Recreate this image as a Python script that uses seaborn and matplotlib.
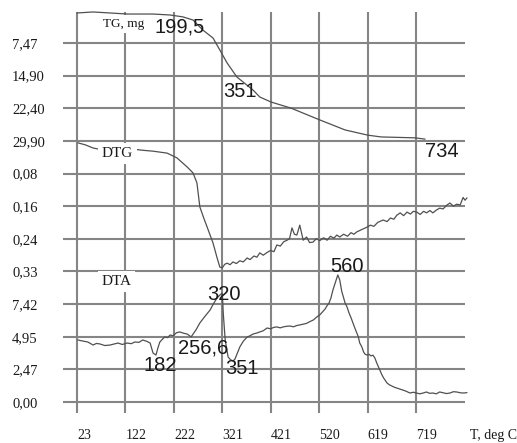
import numpy as np
import pandas as pd
import matplotlib
matplotlib.use("Agg")
import matplotlib.pyplot as plt
import seaborn as sns

# ---- data -------------------------------------------------------------
# temperature tick labels (deg C) and the stacked left-axis labels, bottom -> top
temp_ticks = [23, 122, 222, 321, 421, 520, 619, 719]
left_labels = ["0,00", "2,47", "4,95", "7,42",          # DTA
               "0,33", "0,24", "0,16", "0,08",          # DTG
               "29,90", "22,40", "14,90", "7,47"]       # TG

# TG: mass loss, mg
tg_temp = [23, 56, 91, 126, 179, 214, 240, 261, 281, 302, 316, 331, 351,
           384, 398, 421, 462, 521, 573, 620, 647, 716, 737]
tg_loss = [0.61, 0.38, 0.61, 0.85, 0.85, 1.07, 1.50, 2.22, 4.51, 6.34, 9.09,
           12.07, 15.27, 18.25, 19.85, 21.0, 22.4, 25.1, 27.4, 28.6, 29.0,
           29.2, 29.5]

# DTG: rate of mass loss
dtg_temp = [25, 40, 56, 76, 100, 138, 160, 179, 208, 228, 249, 261, 269, 275,
            283, 290, 302, 310, 316, 321, 326, 331, 337, 343, 350, 357, 364,
            372, 378, 386, 392, 398, 405, 413, 420, 427, 433, 440, 447, 454,
            459, 464, 469, 474, 480, 487, 494, 500, 507, 514, 521, 529, 536,
            543, 550, 556, 562, 570, 578, 585, 591, 597, 604, 611, 618, 625,
            632, 640, 651, 659, 666, 673, 679, 686, 693, 700, 707, 713, 720,
            727, 734, 740, 747, 753, 760, 767, 774, 781, 788, 795, 802, 809,
            815, 819, 823]
dtg_rate = [0.005, 0.010, 0.018, 0.023, 0.022, 0.021, 0.024, 0.026, 0.031,
            0.043, 0.066, 0.081, 0.106, 0.167, 0.195, 0.218, 0.258, 0.294,
            0.319, 0.321, 0.312, 0.309, 0.313, 0.306, 0.310, 0.303, 0.306,
            0.296, 0.300, 0.291, 0.294, 0.283, 0.289, 0.282, 0.277, 0.280,
            0.263, 0.266, 0.255, 0.251, 0.247, 0.220, 0.236, 0.238, 0.213,
            0.251, 0.243, 0.257, 0.256, 0.247, 0.252, 0.245, 0.251, 0.241,
            0.246, 0.238, 0.243, 0.236, 0.241, 0.232, 0.236, 0.230, 0.226,
            0.222, 0.218, 0.213, 0.216, 0.206, 0.200, 0.204, 0.195, 0.198,
            0.188, 0.182, 0.189, 0.180, 0.185, 0.178, 0.180, 0.186, 0.178,
            0.182, 0.176, 0.182, 0.175, 0.170, 0.172, 0.163, 0.157, 0.165,
            0.160, 0.162, 0.143, 0.150, 0.144]

# DTA signal
dta_temp = [25, 35, 45, 56, 63, 70, 80, 91, 100, 107,
            116, 126, 134, 142, 150, 158, 166, 173, 179, 185,
            189, 193, 198, 203, 209, 214, 220, 227, 234, 241,
            249, 254, 257, 262, 267, 275, 286, 296, 303, 310,
            316, 321, 323, 327, 333, 338, 343, 347, 352, 357,
            364, 372, 378, 384, 391, 398, 405, 413, 420, 427,
            433, 440, 446, 453, 460, 467, 474, 480, 487, 494,
            501, 508, 515, 521, 527, 532, 536, 540, 544, 548,
            552, 556, 558, 562, 566, 570, 573, 577, 581, 585,
            589, 593, 597, 600, 603, 607, 611, 614, 618, 622,
            626, 630, 634, 638, 644, 648, 652, 656, 659, 664,
            669, 674, 679, 685, 691, 698, 706, 713, 720, 726,
            733, 740, 746, 753, 760, 767, 774, 781, 788, 795,
            802, 809, 816, 823]
dta_sig = [4.70, 4.62, 4.55, 4.32, 4.44, 4.40, 4.28, 4.32, 4.40, 4.47,
           4.36, 4.47, 4.42, 4.55, 4.52, 4.70, 4.60, 4.47, 3.71, 3.56,
           4.10, 4.55, 4.75, 4.93, 4.88, 5.08, 5.02, 5.25, 5.31, 5.22,
           5.15, 5.02, 4.93, 5.20, 5.46, 5.99, 6.52, 6.97, 7.45, 7.88,
           8.10, 8.26, 6.75, 4.70, 3.41, 3.20, 3.11, 3.25, 3.70, 4.17,
           4.60, 4.93, 5.02, 5.15, 5.22, 5.31, 5.40, 5.61, 5.55, 5.66,
           5.69, 5.62, 5.69, 5.74, 5.76, 5.70, 5.80, 5.84, 5.90, 5.96,
           6.10, 6.22, 6.45, 6.60, 6.85, 7.05, 7.30, 7.50, 7.90, 8.49,
           8.95, 9.40, 9.63, 9.25, 8.40, 7.90, 7.50, 7.20, 6.75, 6.40,
           5.99, 5.60, 5.23, 4.95, 4.47, 4.20, 3.79, 3.62, 3.56, 3.62,
           3.49, 3.55, 3.34, 2.95, 2.43, 2.10, 1.82, 1.60, 1.44, 1.30,
           1.21, 1.12, 1.06, 0.98, 0.91, 0.82, 0.68, 0.74, 0.68, 0.62,
           0.68, 0.76, 0.66, 0.68, 0.62, 0.76, 0.70, 0.64, 0.68, 0.78,
           0.76, 0.70, 0.68, 0.71]

# ---- each curve lives in its own band of the stacked chart -------------
def tg_band(v):   # TG band: 0 mg at row 12, 7.47 mg per grid row, downwards
    return 12 - np.asarray(v) / 7.475

def dtg_band(v):  # DTG band: 0 at row 8, 0.0825 per grid row, downwards
    return 8 - np.asarray(v) / 0.0825

def dta_band(v):  # DTA band: 0 at row 0, 2.474 per grid row, upwards
    return np.asarray(v) / 2.474

df = pd.concat([
    pd.DataFrame({"T": tg_temp, "row": tg_band(tg_loss), "curve": "TG"}),
    pd.DataFrame({"T": dtg_temp, "row": dtg_band(dtg_rate), "curve": "DTG"}),
    pd.DataFrame({"T": dta_temp, "row": dta_band(dta_sig), "curve": "DTA"}),
], ignore_index=True)

# ---- figure -------------------------------------------------------------
sns.set_style("white")
fig = plt.figure(figsize=(5.17, 4.43), dpi=100)
ax = fig.add_axes([0, 0, 1, 1])
ax.set_xlim(-134.95, 925.6)
ax.set_ylim(-1.256, 12.316)
ax.axis("off")

grid_kw = dict(color="#858585", lw=1.5, zorder=1)
ax.vlines(temp_ticks, -0.34, 11.96, **grid_kw)
ax.hlines(range(len(left_labels)), -5.7, 818.9, **grid_kw)

sns.lineplot(data=df, x="T", y="row", units="curve", estimator=None,
             sort=False, color="#505050", lw=0.9, ax=ax, legend=False,
             zorder=2)

serif = "Liberation Serif"
ink = "#1a1a1a"
for i, lab in enumerate(left_labels):
    ax.text(-110.3, i, lab, ha="left", va="center_baseline",
            family=serif, fontsize=10.5, color=ink)
for t in temp_ticks:
    ax.text(t, -1.04, str(t), ha="left", va="center",
            family=serif, fontsize=10, color=ink)
ax.text(829, -1.04, "T, deg C", ha="left", va="center",
        family=serif, fontsize=10, color=ink)

# curve captions
box = dict(fc="white", ec="none", pad=2.5)
ax.text(76, 11.49, "TG, mg", ha="left", va="baseline", family=serif,
        fontsize=9.5, color=ink, bbox=box, zorder=3)
ax.text(74, 7.506, "DTG", ha="left", va="baseline", family=serif,
        fontsize=11, color=ink, bbox=box, zorder=3)
ax.text(74, 3.585, "DTA", ha="left", va="baseline", family=serif,
        fontsize=11, color=ink, bbox=box, zorder=3)

# characteristic temperatures
peaks = [("199,5", 183, 11.305), ("351", 322.5, 9.345), ("734", 737, 7.506),
         ("320", 289.7, 3.125), ("256,6", 230, 1.50), ("182", 158.4, 0.95),
         ("351", 326.6, 0.858), ("560", 542, 3.98)]
for lab, x, y in peaks:
    ax.text(x, y, lab, ha="left", va="baseline", family="Liberation Sans",
            fontsize=14.5, color=ink, zorder=4)

fig.savefig("out.png", dpi=100)
